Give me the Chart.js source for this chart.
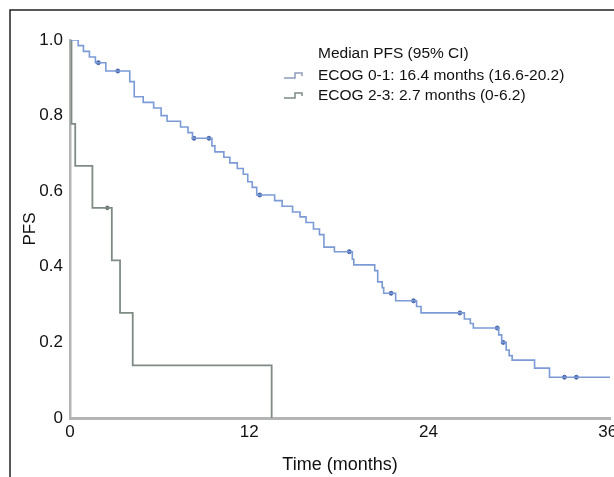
<!DOCTYPE html>
<html>
<head>
<meta charset="utf-8">
<script src="https://cdn.jsdelivr.net/npm/chart.js@4.4.1/dist/chart.umd.min.js"></script>
<style>
  html, body { margin: 0; padding: 0; background: #fff; }
  #wrap { width: 614px; height: 477px; position: relative; }
</style>
</head>
<body>
<div id="wrap"><canvas id="pfs"></canvas></div>
<script>
'use strict';

/** Colours */
const COLORS = {
  good:     '#7b9ad6',
  goodMark: '#4767ad',
  poor:     '#7f8c84',
  poorMark: '#5a665f',
  axis:     '#b4b4b4',
  frame:    '#222222',
  text:     '#111111',
};

const FONT = '"Liberation Sans", Arial, Helvetica, sans-serif';

const X_TICKS = [0, 12, 24, 36];
const Y_TICKS = [0, 0.2, 0.4, 0.6, 0.8, 1.0];

// ECOG 0-1: step times (months) and survival after each step
const GOOD_TIMES = [0, 0.55, 0.9, 1.3, 1.7, 2.4, 4.0, 4.3, 4.9, 5.6, 6.1, 6.5, 7.4, 7.9, 8.2,
  9.5, 9.7, 10.3, 10.7, 11.2, 11.6, 11.9, 12.2, 12.5, 13.7, 14.2, 14.9, 15.4, 15.8, 16.3,
  16.7, 17.0, 17.7, 18.9, 19.0, 20.4, 20.6, 20.9, 21.0, 21.8, 23.2, 23.5, 26.4, 26.8, 27.0,
  28.7, 28.9, 29.2, 29.4, 29.6, 31.1, 32.1, 36.15];
const GOOD_SURV = [1.0, 0.985, 0.97, 0.955, 0.94, 0.918, 0.89, 0.85, 0.835, 0.82, 0.80, 0.785, 0.77, 0.755, 0.74,
  0.72, 0.704, 0.69, 0.675, 0.66, 0.645, 0.625, 0.61, 0.59, 0.575, 0.56, 0.545, 0.532, 0.517, 0.50,
  0.485, 0.452, 0.44, 0.42, 0.405, 0.39, 0.36, 0.345, 0.33, 0.31, 0.295, 0.278, 0.262, 0.25, 0.238,
  0.22, 0.20, 0.18, 0.165, 0.153, 0.132, 0.108, 0.108];
const GOOD_CENSOR = [1.9, 3.2, 8.3, 9.3, 12.7, 18.7, 21.5, 23.0, 26.1, 28.6, 29.0, 33.1, 33.9];

// ECOG 2-3
const POOR_TIMES = [0, 0.1, 0.35, 1.5, 2.8, 3.35, 4.2, 13.5];
const POOR_SURV = [1.0, 0.778, 0.667, 0.556, 0.417, 0.278, 0.139, 0];
const POOR_CENSOR = [2.5];

const LEGEND_TITLE = 'Median PFS (95% CI)';
const LEGEND_LABELS = ['ECOG 0-1: 16.4 months (16.6-20.2)', 'ECOG 2-3: 2.7 months (0-6.2)'];

/**
 * Survival value of a step curve at time t.
 */
function survAt(times, surv, t) {
  let s = surv[0];
  for (let i = 0; i < times.length; i++) {
    if (times[i] <= t) s = surv[i];
  }
  return s;
}

function toPoints(times, surv) {
  return times.map((t, i) => ({ x: t, y: surv[i] }));
}

function censorPoints(times, surv, censor) {
  return censor.map((t) => ({ x: t, y: survAt(times, surv, t) }));
}

/** Draws the figure frame (top + left rule) and the KM-style legend */
const figurePlugin = {
  id: 'figure',
  beforeDraw(chart) {
    const ctx = chart.ctx;
    ctx.save();
    ctx.strokeStyle = COLORS.frame;
    ctx.lineWidth = 1.5;
    ctx.beginPath();
    ctx.moveTo(10, chart.height);
    ctx.lineTo(10, 10);
    ctx.lineTo(chart.width, 10);
    ctx.stroke();
    ctx.restore();
  },
  afterDraw(chart) {
    const ctx = chart.ctx;
    const x0 = 284;
    const tx = 318;
    ctx.save();
    ctx.font = `15.5px ${FONT}`;
    ctx.fillStyle = COLORS.text;
    ctx.textBaseline = 'middle';
    ctx.fillText(LEGEND_TITLE, tx, 54);
    const rows = [76, 96];
    const cols = ['#8e9cbc', '#7e8a84'];
    LEGEND_LABELS.forEach((label, i) => {
      const y = rows[i];
      ctx.strokeStyle = cols[i];
      ctx.lineWidth = 1.5;
      ctx.beginPath();
      ctx.moveTo(x0, y + 2);
      ctx.lineTo(x0 + 11, y + 2);
      ctx.lineTo(x0 + 11, y - 3);
      ctx.lineTo(x0 + 18, y - 3);
      ctx.lineTo(x0 + 18, y);
      ctx.stroke();
      ctx.fillText(label, tx, y);
    });
    ctx.restore();
  },
};

const tickFont = { family: FONT, size: 17 };

new Chart(document.getElementById('pfs'), {
  type: 'line',
  data: {
    datasets: [
      {
        label: LEGEND_LABELS[0],
        data: toPoints(GOOD_TIMES, GOOD_SURV),
        borderColor: COLORS.good,
        borderWidth: 1.6,
        stepped: 'before',
        pointRadius: 0,
        fill: false,
      },
      {
        label: LEGEND_LABELS[1],
        data: toPoints(POOR_TIMES, POOR_SURV),
        borderColor: COLORS.poor,
        borderWidth: 1.8,
        stepped: 'before',
        pointRadius: 0,
        fill: false,
      },
      {
        type: 'scatter',
        data: censorPoints(GOOD_TIMES, GOOD_SURV, GOOD_CENSOR),
        backgroundColor: COLORS.goodMark,
        borderColor: COLORS.goodMark,
        pointRadius: 2,
      },
      {
        type: 'scatter',
        data: censorPoints(POOR_TIMES, POOR_SURV, POOR_CENSOR),
        backgroundColor: COLORS.poorMark,
        borderColor: COLORS.poorMark,
        pointRadius: 1.8,
      },
    ],
  },
  options: {
    responsive: true,
    maintainAspectRatio: false,
    animation: false,
    layout: { autoPadding: false, padding: { top: 40, right: 4, left: 0, bottom: 0 } },
    plugins: {
      legend: { display: false },
      tooltip: { enabled: false },
    },
    scales: {
      x: {
        type: 'linear',
        min: 0,
        max: 36.15,
        afterBuildTicks: (scale) => { scale.ticks = X_TICKS.map((v) => ({ value: v })); },
        afterFit: (scale) => {
          scale.height = 59;
          scale.paddingLeft = 0;
          scale.paddingRight = 0;
        },
        grid: { display: false, drawTicks: false },
        border: { display: true, color: COLORS.axis, width: 3 },
        ticks: { color: COLORS.text, font: tickFont, padding: 4, maxRotation: 0 },
        title: {
          display: true,
          text: 'Time (months)',
          color: COLORS.text,
          font: { family: FONT, size: 18 },
          padding: { top: 0, bottom: 1 },
        },
      },
      y: {
        type: 'linear',
        min: 0,
        max: 1,
        afterBuildTicks: (scale) => { scale.ticks = Y_TICKS.map((v) => ({ value: v })); },
        afterFit: (scale) => {
          scale.width = 70;
          scale.paddingTop = 0;
          scale.paddingBottom = 0;
        },
        grid: { display: false, drawTicks: false },
        border: { display: true, color: COLORS.axis, width: 2.5 },
        ticks: {
          color: COLORS.text,
          font: tickFont,
          padding: 7,
          callback: (v) => (v === 0 ? '0' : v.toFixed(1)),
        },
        title: {
          display: true,
          text: 'PFS',
          color: COLORS.text,
          font: { family: FONT, size: 17 },
          padding: { top: 20, bottom: 0 },
        },
      },
    },
  },
  plugins: [figurePlugin],
});
</script>
</body>
</html>
